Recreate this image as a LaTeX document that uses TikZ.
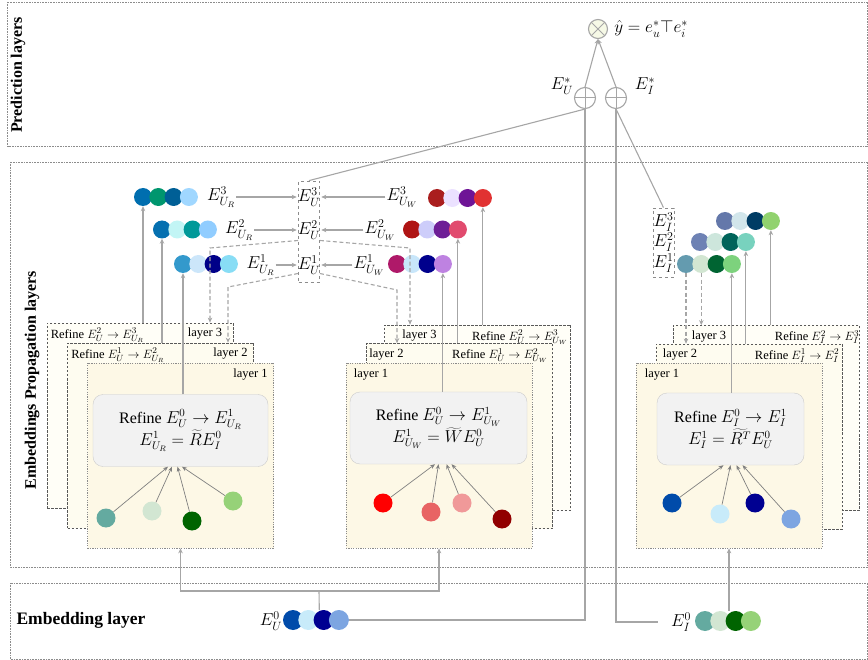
\documentclass[tikz,border=0pt]{standalone}
\usepackage{fontspec}
\setmainfont{Liberation Serif}
\usetikzlibrary{arrows.meta}

\definecolor{wiregray}{HTML}{A6A6A6}
\definecolor{layfillA}{HTML}{FDF8E6}
\definecolor{layfillB}{HTML}{FEFCF0}
\definecolor{layfillC}{HTML}{FFFEF7}
\definecolor{prodfill}{HTML}{F6F9E6}

% a row of embedding dots: [style]{name prefix}{first x}{y}{hex colours}
\newcommand{\dotrow}[5][emb]{%
  \foreach \h [count=\i] in {#5} {%
    \edef\dotdef{\noexpand\definecolor{dotc}{HTML}{\h}}\dotdef
    \node[#1, fill=dotc] (#2\i) at ({#3+15.3*(\i-1)},#4) {};}}
% one input dot: {name}{x}{y}{hex colour}
\newcommand{\balldot}[4]{%
  \definecolor{ballc}{HTML}{#4}\node[ball] (#1) at (#2,#3) {};}

\begin{document}
\begin{tikzpicture}[x=1pt, y=-1pt, font=\fontsize{12.5}{14}\selectfont,
  band/.style={draw=black!45, densely dotted, line width=0.6pt},
  bandlbl/.style={font=\fontsize{16}{18}\selectfont\bfseries},
  layerbox/.style={draw=black!65, dash pattern=on 2.5pt off 1.5pt, line width=0.7pt,
    fill=#1, minimum width=186, minimum height=185, inner sep=0},
  layerbox/.default=layfillC,
  firstbox/.style={layerbox=layfillA, draw=black!45, dash pattern=on 1.2pt off 1.2pt},
  head/.style={inner sep=1pt},
  inbox/.style={draw=black!20, fill=black!5, rounded corners=10pt, minimum height=72,
    align=center, font=\fontsize{16}{22}\selectfont},
  mlbl/.style={font=\fontsize{17}{19}\selectfont, inner sep=1pt},
  emb/.style={circle, inner sep=0, minimum size=18},
  emb0/.style={circle, inner sep=0, minimum size=20},
  ball/.style={circle, inner sep=0, minimum size=19, fill=ballc},
  dashbox/.style={draw=black!45, dashed, line width=0.8pt, minimum width=21, inner sep=0},
  wire/.style={draw=wiregray, line width=1.1pt},
  conn/.style={wire, -{Stealth[length=5pt, width=4.5pt]}},
  dconn/.style={conn, dash pattern=on 4pt off 2.5pt},
  iconn/.style={draw=black!50, line width=0.7pt, -{Stealth[length=5pt, width=4pt]}},
  op/.style={circle, draw=wiregray, line width=1.1pt, minimum size=21, inner sep=0}]
\useasboundingbox (0,0) rectangle (868,660);

% bands
\draw[band] (7.5,2) rectangle (867.5,146.5);
\draw[band] (10,162) rectangle (867.5,567);
\draw[band] (10,583) rectangle (867.5,659);
\node[bandlbl, rotate=90] (tPred) at (18,75) {Prediction layers};
\node[bandlbl, rotate=90] (tProp) at (32,380) {Embeddings Propagation layers};
\node[bandlbl, anchor=west, font=\fontsize{17.5}{19}\selectfont\bfseries] (tEmb) at (13,620) {Embedding layer};

% user side R
\node[layerbox] (lR3) at (140,415.5) {};
\node[layerbox=layfillB] (lR2) at (160.5,435.5) {};
\node[firstbox] (lR1) at (180.5,455.5) {};
\node[head, anchor=north west] (hR3) at ([xshift=3pt,yshift=-4pt]lR3.north west) {Refine $E_U^2 \rightarrow E_{U_R}^3$};
\node[head, anchor=north east] (nR3) at ([xshift=-10pt,yshift=-4pt]lR3.north east) {layer 3};
\node[head, anchor=north west] (hR2) at ([xshift=3pt,yshift=-4pt]lR2.north west) {Refine $E_U^1 \rightarrow E_{U_R}^2$};
\node[head, anchor=north east] (nR2) at ([xshift=-5pt,yshift=-4pt]lR2.north east) {layer 2};
\node[head, anchor=north east] (nR1) at ([xshift=-5pt,yshift=-5pt]lR1.north east) {layer 1};
\node[inbox, minimum width=175] (inR) at (180.5,430.5) {Refine $E_U^0 \rightarrow E_{U_R}^1$\\ $E_{U_R}^1 = \widetilde{R}E_I^0$};
\balldot{bR1}{106}{518}{64AAA0}
\balldot{bR2}{152}{511}{D2E6D2}
\balldot{bR3}{192}{521}{006400}
\balldot{bR4}{233}{501}{96D278}

% user side W
\node[layerbox] (mR3) at (477.5,417.5) {};
\node[layerbox=layfillB] (mR2) at (459.5,436) {};
\node[firstbox] (mR1) at (439,455.5) {};
\node[head, anchor=north west] (nW3) at ([xshift=17pt,yshift=-4pt]mR3.north west) {layer 3};
\node[head, anchor=north east] (hW3) at ([xshift=-2pt,yshift=-4pt]mR3.north east) {Refine $E_U^2 \rightarrow E_{U_W}^3$};
\node[head, anchor=north west] (nW2) at ([xshift=2pt,yshift=-4pt]mR2.north west) {layer 2};
\node[head, anchor=north east] (hW2) at ([xshift=-4pt,yshift=-4pt]mR2.north east) {Refine $E_U^1 \rightarrow E_{U_W}^2$};
\node[head, anchor=north west] (nW1) at ([xshift=7pt,yshift=-5pt]mR1.north west) {layer 1};
\node[inbox, minimum width=177] (inW) at (438.5,428) {Refine $E_U^0 \rightarrow E_{U_W}^1$\\ $E_{U_W}^1 = \widetilde{W}E_U^0$};
\balldot{bW1}{383}{503}{FF0000}
\balldot{bW2}{431}{512}{E86464}
\balldot{bW3}{462}{503}{F09999}
\balldot{bW4}{502}{519}{910000}

% item side
\node[layerbox] (iR3) at (766,418) {};
\node[layerbox=layfillB] (iR2) at (749,436.5) {};
\node[firstbox] (iR1) at (729,455.5) {};
\node[head, anchor=north west] (nI3) at ([xshift=18pt,yshift=-4pt]iR3.north west) {layer 3};
\node[head, anchor=north east] (hI3) at ([xshift=1pt,yshift=-4pt]iR3.north east) {Refine $E_I^2 \rightarrow E_I^3$};
\node[head, anchor=north west] (nI2) at ([xshift=6pt,yshift=-4pt]iR2.north west) {layer 2};
\node[head, anchor=north east] (hI2) at ([xshift=-2pt,yshift=-4pt]iR2.north east) {Refine $E_I^1 \rightarrow E_I^2$};
\node[head, anchor=north west] (nI1) at ([xshift=8pt,yshift=-5pt]iR1.north west) {layer 1};
\node[inbox, minimum width=147] (inI) at (730.5,429) {Refine $E_I^0 \rightarrow E_I^1$\\ $E_I^1 = \widetilde{R^T}E_U^0$};
\balldot{bI1}{672}{503}{004BAA}
\balldot{bI2}{720}{514}{C8EBFA}
\balldot{bI3}{755}{503}{000091}
\balldot{bI4}{791}{519}{7DA5E1}

\draw[iconn] (bR1) -- ([xshift=-12.5pt]inR.south);
\draw[iconn] (bR2) -- ([xshift=-8.5pt]inR.south);
\draw[iconn] (bR3) -- ([xshift=-3pt]inR.south);
\draw[iconn] (bR4) -- ([xshift=1.5pt]inR.south);
\draw[iconn] (bW1) -- ([xshift=-3.5pt]inW.south);
\draw[iconn] (bW2) -- (inW.south);
\draw[iconn] (bW3) -- ([xshift=8pt]inW.south);
\draw[iconn] (bW4) -- ([xshift=13pt]inW.south);
\draw[iconn] (bI1) -- ([xshift=-7pt]inI.south);
\draw[iconn] (bI2) -- (inI.south);
\draw[iconn] (bI3) -- ([xshift=6pt]inI.south);
\draw[iconn] (bI4) -- ([xshift=12pt]inI.south);

% propagated embeddings
\dotrow{R3}{143}{197}{006EAF,00966E,005F96,A0D7FF}
\dotrow{R2}{162}{229.5}{0570B0,C2F5F5,009999,91CDFF}
\dotrow{R1}{183}{264}{3399CC,CCE6FA,000088,88DDF5}
\dotrow{W3}{437}{198}{AA1E1E,EBE1FF,6E1496,E13232}
\dotrow{W2}{412}{229.5}{AF1414,CDCDFA,6E1E96,E14B6E}
\dotrow{W1}{397}{264}{AF1969,C8E6FA,00008C,BE82E1}
\dotrow{I3}{725}{221}{6478AA,D2E6EB,003C64,91D26E}
\dotrow{I2}{700}{242}{6E82B4,CDE6DC,00645A,78D2BE}
\dotrow{I1}{686}{264}{649BAF,D2E6D2,006432,7DD27D}

\node[mlbl] (lEUR3) at (221,197) {$E_{U_R}^3$};
\node[mlbl] (lEUR2) at (239,230) {$E_{U_R}^2$};
\node[mlbl] (lEUR1) at (260.5,265) {$E_{U_R}^1$};
\node[mlbl] (lEUW3) at (402,197) {$E_{U_W}^3$};
\node[mlbl] (lEUW2) at (380,230) {$E_{U_W}^2$};
\node[mlbl] (lEUW1) at (369,265) {$E_{U_W}^1$};
\node[dashbox, minimum height=101] (EUbox) at (309,231.5) {};
\node[mlbl] (EU3) at (309,197) {$E_U^3$};
\node[mlbl] (EU2) at (309,230) {$E_U^2$};
\node[mlbl] (EU1) at (309,265) {$E_U^1$};
\node[dashbox, minimum height=69] (EIbox) at (663.5,242.5) {};
\node[mlbl, inner sep=0] (EI3) at (663.5,222) {$E_I^3$};
\node[mlbl, inner sep=0] (EI2) at (663.5,242) {$E_I^2$};
\node[mlbl, inner sep=0] (EI1) at (663.5,263) {$E_I^1$};

\draw[conn] (lEUR3) -- (EU3);
\draw[conn] (lEUR2) -- (EU2);
\draw[conn] (lEUR1) -- (EU1);
\draw[conn] (lEUW3) -- (EU3);
\draw[conn] (lEUW2) -- (EU2);
\draw[conn] (lEUW1) -- (EU1);

\draw[dconn] ([yshift=-9pt]EUbox.west) -- (210,248) -- (210,248 |- lR3.north);
\draw[dconn] ([yshift=-42pt]EUbox.west) -- (228,287) -- (228,287 |- lR2.north);
\draw[dconn] ([yshift=-9pt]EUbox.east) -- (410,248) -- (410,248 |- mR3.north);
\draw[dconn] ([yshift=-42pt]EUbox.east) -- (397,290) -- (397,290 |- mR2.north);
\draw[dconn] (I11.south) -- (I11.south |- iR2.north);
\draw[dconn] (I12.south) -- (I12.south |- iR3.north);

\draw[conn] (R31 |- lR3.north) -- (R31.south);
\draw[conn] (R21 |- lR2.north) -- (R21.south);
\draw[conn] (R11 |- inR.north) -- (R11.south);
\draw[conn] (W34 |- mR3.north) -- (W34.south);
\draw[conn] (W24 |- mR2.north) -- (W24.south);
\draw[conn] (W14 |- inW.north) -- (W14.south);
\draw[conn] (I34 |- iR3.north) -- (I34.south);
\draw[conn] (I24 |- iR2.north) -- (I24.south);
\draw[conn] (I14 |- inI.north) -- (I14.south);

% embedding layer
\dotrow[emb0]{U0}{293}{620}{004BAA,C8EBFA,000091,7DA5E1}
\dotrow[emb0]{I0}{705}{621}{64AAA0,D2E6D2,006400,96D278}
\node[mlbl] (lEU0) at (271,621) {$E_U^0$};
\node[mlbl] (lEI0) at (681,622) {$E_I^0$};
\coordinate (uSplit) at (319,591);
\draw[wire] ([xshift=11pt]U02.north) -- (uSplit);
\draw[conn] (uSplit) -| (lR1.south);
\draw[conn] (uSplit) -| (mR1.south);
\draw[conn] (iR1.south |- I02.north) -- (iR1.south);

% prediction
\node[op, minimum size=19, fill=prodfill, path picture={
  \draw[wiregray, line width=1pt] (path picture bounding box.north west) -- (path picture bounding box.south east)
    (path picture bounding box.north east) -- (path picture bounding box.south west);}] (prod) at (598,29) {};
\node[op, path picture={
  \draw[wiregray, line width=1pt] (path picture bounding box.north) -- (path picture bounding box.south)
    (path picture bounding box.west) -- (path picture bounding box.east);}] (sumU) at (585,98) {};
\node[op, path picture={
  \draw[wiregray, line width=1pt] (path picture bounding box.north) -- (path picture bounding box.south)
    (path picture bounding box.west) -- (path picture bounding box.east);}] (sumI) at (616,98) {};
\node[mlbl, anchor=west, font=\fontsize{18}{20}\selectfont] (yhat) at ([xshift=5pt]prod.east) {$\hat{y} = e_u^{*}\top e_i^{*}$};
\node[mlbl] (lEUs) at (562,86) {$E_U^{*}$};
\node[mlbl] (lEIs) at (645,86) {$E_I^{*}$};

\draw[conn] (sumU.north) -- (prod.south);
\draw[conn] (sumI.north) -- (prod.south);
\draw[wire] (sumU.south) -- (EUbox.north);
\draw[wire] (sumI.south) -- (EIbox.north);
\draw[wire] (sumU.south) |- (U04.east);
\draw[wire] (sumI.south) |- ([xshift=-12pt]lEI0.west);
\end{tikzpicture}
\end{document}
